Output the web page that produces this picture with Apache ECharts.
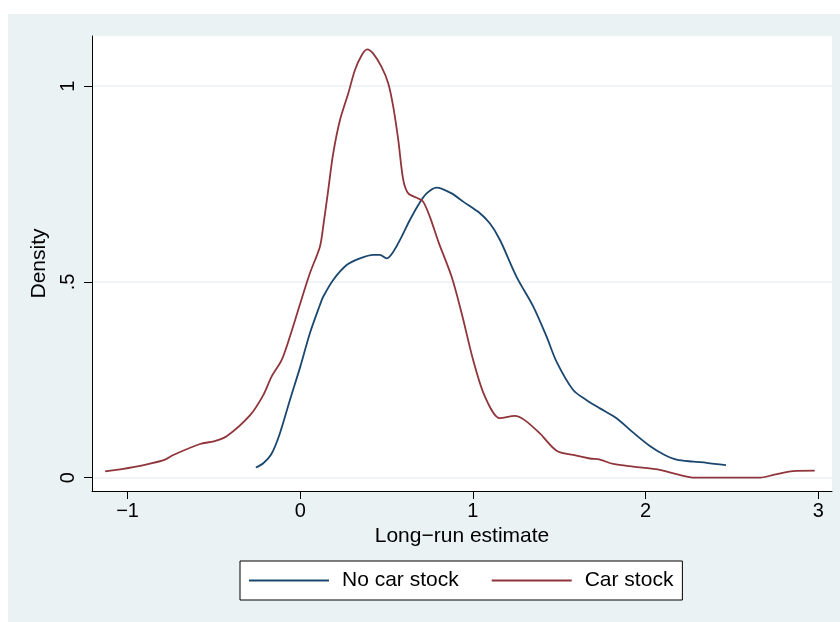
<!DOCTYPE html>
<html>
<head>
<meta charset="utf-8">
<script src="https://cdn.jsdelivr.net/npm/echarts@6/dist/echarts.min.js"></script>
<style>
html,body{margin:0;padding:0;background:#fff;}
#chart{width:840px;height:622px;}
</style>
</head>
<body>
<div id="chart"></div>
<script>
// Data
const seriesNames = ['No car stock', 'Car stock'];

const noCarX = [-0.257, -0.214, -0.166, -0.118, -0.06, 0, 0.056, 0.114, 0.133, 0.191, 0.269, 0.346, 0.423, 0.462, 0.50, 0.539, 0.587, 0.635, 0.683, 0.732, 0.79, 0.877, 0.944, 1.031, 1.099, 1.157, 1.253, 1.35, 1.427, 1.485, 1.581, 1.659, 1.736, 1.832, 1.929, 2.025, 2.103, 2.18, 2.276, 2.354, 2.466];
const noCarY = [0.026, 0.037, 0.061, 0.113, 0.198, 0.283, 0.369, 0.441, 0.462, 0.505, 0.543, 0.56, 0.569, 0.569, 0.56, 0.577, 0.615, 0.658, 0.696, 0.726, 0.741, 0.726, 0.705, 0.679, 0.649, 0.607, 0.513, 0.437, 0.36, 0.296, 0.224, 0.198, 0.177, 0.152, 0.115, 0.081, 0.06, 0.046, 0.041, 0.038, 0.032];

const carX = [-1.13, -0.967, -0.79, -0.735, -0.58, -0.50, -0.426, -0.29, -0.214, -0.166, -0.108, -0.06, 0.0, 0.056, 0.114, 0.133, 0.162, 0.191, 0.23, 0.278, 0.317, 0.356, 0.388, 0.423, 0.471, 0.51, 0.539, 0.568, 0.597, 0.626, 0.683, 0.712, 0.751, 0.80, 0.877, 0.935, 1.002, 1.07, 1.157, 1.243, 1.30, 1.388, 1.485, 1.581, 1.678, 1.736, 1.813, 1.929, 2.07, 2.18, 2.286, 2.663, 2.74, 2.855, 2.98];
const carY = [0.016, 0.027, 0.045, 0.058, 0.086, 0.093, 0.106, 0.16, 0.211, 0.258, 0.30, 0.36, 0.445, 0.522, 0.59, 0.641, 0.734, 0.828, 0.913, 0.981, 1.041, 1.079, 1.094, 1.083, 1.049, 1.007, 0.947, 0.862, 0.76, 0.726, 0.713, 0.705, 0.666, 0.603, 0.513, 0.42, 0.30, 0.207, 0.152, 0.158, 0.147, 0.113, 0.069, 0.058, 0.049, 0.046, 0.035, 0.028, 0.021, 0.009, 0.0, 0.0, 0.007, 0.017, 0.018];

const xTicks = [-1, 0, 1, 2, 3];
const xTickLabels = ['\u22121', '0', '1', '2', '3'];
const yTicks = [0, 0.5, 1];
const yTickLabels = ['0', '.5', '1'];

const xTitle = 'Long\u2212run estimate';
const yTitle = 'Density';

const FONT = '"Liberation Sans", Arial, Helvetica, sans-serif';
const NAVY = '#1a476f';
const MAROON = '#90353b';
const BG = '#eaf2f3';

function pairs(xs, ys) { return xs.map((x, i) => [x, ys[i]]); }

const chart = echarts.init(document.getElementById('chart'), null, {renderer: 'canvas'});
chart.setOption({
  backgroundColor: '#ffffff',
  animation: false,
  graphic: [{
    type: 'rect', z: -100, silent: true,
    shape: {x: 8, y: 14, width: 832, height: 608},
    style: {fill: BG}
  }],
  grid: {
    left: 92, right: 8, top: 36, bottom: 131,
    show: true, backgroundColor: '#ffffff', borderWidth: 0
  },
  legend: {
    left: 240, top: 561,
    data: seriesNames,
    icon: 'rect',
    itemWidth: 80, itemHeight: 2,
    itemGap: 33,
    padding: [9, 9, 9, 9],
    backgroundColor: '#ffffff',
    borderColor: '#000000', borderWidth: 1, borderRadius: 0,
    textStyle: {fontFamily: FONT, fontSize: 21, color: '#000', padding: [0, 0, 0, 8]}
  },
  xAxis: {
    type: 'value', min: -1.206, max: 3.08,
    name: xTitle, nameLocation: 'middle', nameGap: 35,
    nameTextStyle: {fontFamily: FONT, fontSize: 21, color: '#000'},
    axisLine: {onZero: false, lineStyle: {color: '#000', width: 1}},
    axisTick: {show: true, length: 8, customValues: xTicks, lineStyle: {color: '#000'}},
    axisLabel: {
      customValues: xTicks, margin: 10,
      fontFamily: FONT, fontSize: 20, color: '#000',
      formatter: v => xTickLabels[xTicks.indexOf(v)] ?? ''
    },
    splitLine: {show: false}
  },
  yAxis: {
    type: 'value', min: -0.034, max: 1.128,
    name: yTitle, nameLocation: 'middle', nameGap: 38, nameRotate: 90,
    nameTextStyle: {fontFamily: FONT, fontSize: 21, color: '#000'},
    axisLine: {show: true, onZero: false, lineStyle: {color: '#000', width: 1}},
    axisTick: {show: true, length: 8, customValues: yTicks, lineStyle: {color: '#000'}},
    axisLabel: {
      customValues: yTicks, margin: 14, rotate: 90,
      fontFamily: FONT, fontSize: 20, color: '#000',
      formatter: v => yTickLabels[yTicks.indexOf(v)] ?? ''
    },
    splitLine: {show: true, lineStyle: {color: BG, width: 1.5}}
  },
  series: [
    {
      name: seriesNames[0], type: 'line', data: pairs(noCarX, noCarY),
      showSymbol: false, symbol: 'none', smooth: 0.3,
      lineStyle: {color: NAVY, width: 1.8}, itemStyle: {color: NAVY}
    },
    {
      name: seriesNames[1], type: 'line', data: pairs(carX, carY),
      showSymbol: false, symbol: 'none', smooth: 0.3,
      lineStyle: {color: MAROON, width: 1.8}, itemStyle: {color: MAROON}
    }
  ]
});
</script>
</body>
</html>
